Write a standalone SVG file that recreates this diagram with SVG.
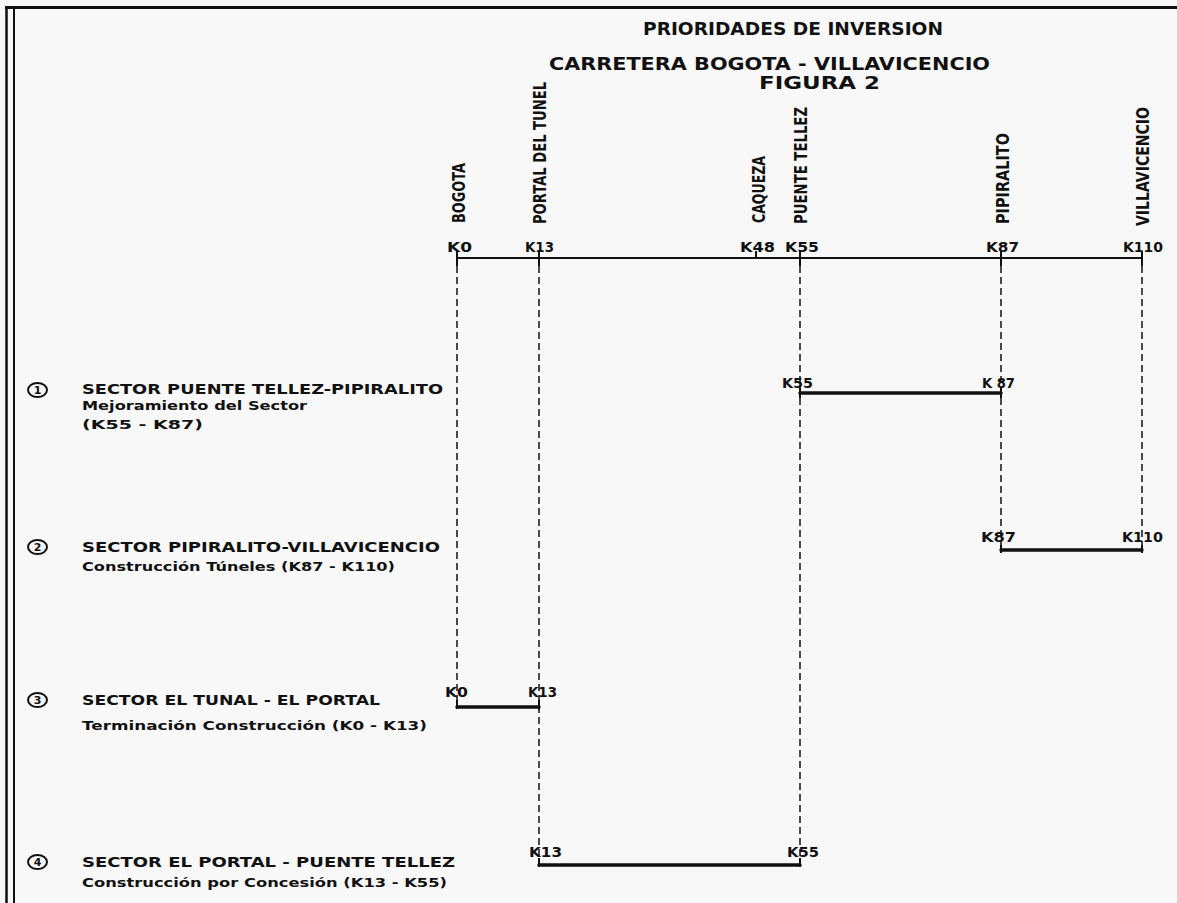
<svg xmlns="http://www.w3.org/2000/svg" width="1177" height="903" viewBox="0 0 1177 903">
<defs>
<style>
.title{font-family:"DejaVu Sans","Liberation Sans",sans-serif;font-size:17.5px;font-weight:bold;fill:#111}
.vlab{font-family:"DejaVu Sans","Liberation Sans",sans-serif;font-size:18px;font-weight:bold;fill:#111}
.km{font-family:"DejaVu Sans","Liberation Sans",sans-serif;font-size:13.5px;font-weight:bold;fill:#111}
.head{font-family:"DejaVu Sans","Liberation Sans",sans-serif;font-size:13.5px;font-weight:bold;fill:#111}
.sub{font-family:"DejaVu Sans","Liberation Sans",sans-serif;font-size:13px;font-weight:bold;fill:#111}
.num{font-family:"DejaVu Sans","Liberation Sans",sans-serif;font-size:11px;font-weight:bold;fill:#111;text-anchor:middle}
.dash{stroke:#111;stroke-width:1.5;stroke-dasharray:7 4;fill:none}
.axis{stroke:#111;stroke-width:2;fill:none}
.bar{stroke:#111;stroke-width:3.5;fill:none;stroke-linecap:round}
.tick{stroke:#111;stroke-width:2;fill:none}
.ell{stroke:#111;stroke-width:2;fill:none}
</style>
</defs>
<rect x="0" y="0" width="1177" height="903" fill="#f8f8f8"/>
<g id="frame">
<line x1="5" y1="7.5" x2="1177" y2="7.5" stroke="#111" stroke-width="3"/>
<line x1="6.5" y1="7" x2="6.5" y2="903" stroke="#111" stroke-width="2.5"/>
<line x1="14" y1="7" x2="14" y2="903" stroke="#111" stroke-width="2"/>
</g>
<g id="title">
<text class="title" x="643" y="35" textLength="300" lengthAdjust="spacingAndGlyphs">PRIORIDADES DE INVERSION</text>
<text class="title" x="549" y="70" textLength="441" lengthAdjust="spacingAndGlyphs">CARRETERA BOGOTA - VILLAVICENCIO</text>
<text class="title" x="759" y="89" textLength="121" lengthAdjust="spacingAndGlyphs">FIGURA 2</text>
</g>
<g id="connectors">
<line class="axis" x1="457" y1="258" x2="1142" y2="258"/>
<line class="tick" x1="457" y1="251" x2="457" y2="266"/>
<line class="tick" x1="539" y1="251" x2="539" y2="266"/>
<line class="tick" x1="756" y1="251" x2="756" y2="258"/>
<line class="tick" x1="800" y1="251" x2="800" y2="266"/>
<line class="tick" x1="1001" y1="251" x2="1001" y2="266"/>
<line class="tick" x1="1142" y1="251" x2="1142" y2="266"/>
<line class="dash" x1="457" y1="266" x2="457" y2="703"/>
<line class="dash" x1="539" y1="266" x2="539" y2="861"/>
<line class="dash" x1="800" y1="266" x2="800" y2="861"/>
<line class="dash" x1="1001" y1="266" x2="1001" y2="546"/>
<line class="dash" x1="1142" y1="266" x2="1142" y2="546"/>
</g>
<g id="axis-labels">
<text class="km" x="447" y="252" textLength="25" lengthAdjust="spacingAndGlyphs">K0</text>
<text class="km" x="525" y="252" textLength="29" lengthAdjust="spacingAndGlyphs">K13</text>
<text class="km" x="740" y="252" textLength="35" lengthAdjust="spacingAndGlyphs">K48</text>
<text class="km" x="785" y="252" textLength="34" lengthAdjust="spacingAndGlyphs">K55</text>
<text class="km" x="986" y="252" textLength="33" lengthAdjust="spacingAndGlyphs">K87</text>
<text class="km" x="1123" y="252" textLength="40" lengthAdjust="spacingAndGlyphs">K110</text>
</g>
<g id="places">
<text class="vlab" transform="translate(465,223) rotate(-90)" textLength="60" lengthAdjust="spacingAndGlyphs">BOGOTA</text>
<text class="vlab" transform="translate(546,224) rotate(-90)" textLength="142" lengthAdjust="spacingAndGlyphs">PORTAL DEL TUNEL</text>
<text class="vlab" transform="translate(765,223) rotate(-90)" textLength="67" lengthAdjust="spacingAndGlyphs">CAQUEZA</text>
<text class="vlab" transform="translate(807,224) rotate(-90)" textLength="117" lengthAdjust="spacingAndGlyphs">PUENTE TELLEZ</text>
<text class="vlab" transform="translate(1009,224) rotate(-90)" textLength="91" lengthAdjust="spacingAndGlyphs">PIPIRALITO</text>
<text class="vlab" transform="translate(1149,226) rotate(-90)" textLength="119" lengthAdjust="spacingAndGlyphs">VILLAVICENCIO</text>
</g>
<g id="sector-1">
<ellipse class="ell" cx="37.5" cy="390" rx="9.5" ry="7"/>
<text class="num" x="37.5" y="394">1</text>
<text class="head" x="82" y="394" textLength="361" lengthAdjust="spacingAndGlyphs">SECTOR PUENTE TELLEZ-PIPIRALITO</text>
<text class="sub" x="82" y="410" textLength="225" lengthAdjust="spacingAndGlyphs">Mejoramiento del Sector</text>
<text class="sub" x="82" y="429" textLength="121" lengthAdjust="spacingAndGlyphs">(K55 - K87)</text>
<line class="bar" x1="800" y1="393" x2="1001" y2="393"/>
<line class="tick" x1="800" y1="388" x2="800" y2="398"/>
<line class="tick" x1="1001" y1="388" x2="1001" y2="398"/>
<text class="km" x="782" y="388" textLength="31" lengthAdjust="spacingAndGlyphs">K55</text>
<text class="km" x="982" y="388" textLength="33" lengthAdjust="spacingAndGlyphs">K 87</text>
</g>
<g id="sector-2">
<ellipse class="ell" cx="37.5" cy="547" rx="9.5" ry="7"/>
<text class="num" x="37.5" y="551">2</text>
<text class="head" x="82" y="552" textLength="358" lengthAdjust="spacingAndGlyphs">SECTOR PIPIRALITO-VILLAVICENCIO</text>
<text class="sub" x="82" y="571" textLength="313" lengthAdjust="spacingAndGlyphs">Construcción Túneles (K87 - K110)</text>
<line class="bar" x1="1001" y1="550" x2="1142" y2="550"/>
<line class="tick" x1="1001" y1="545" x2="1001" y2="553"/>
<line class="tick" x1="1142" y1="545" x2="1142" y2="553"/>
<text class="km" x="981" y="542" textLength="35" lengthAdjust="spacingAndGlyphs">K87</text>
<text class="km" x="1122" y="542" textLength="41" lengthAdjust="spacingAndGlyphs">K110</text>
</g>
<g id="sector-3">
<ellipse class="ell" cx="37.5" cy="700" rx="9.5" ry="7"/>
<text class="num" x="37.5" y="704">3</text>
<text class="head" x="82" y="705" textLength="298" lengthAdjust="spacingAndGlyphs">SECTOR EL TUNAL - EL PORTAL</text>
<text class="sub" x="82" y="730" textLength="345" lengthAdjust="spacingAndGlyphs">Terminación Construcción (K0 - K13)</text>
<line class="bar" x1="457" y1="707" x2="539" y2="707"/>
<line class="tick" x1="457" y1="700" x2="457" y2="709"/>
<line class="tick" x1="539" y1="700" x2="539" y2="710"/>
<text class="km" x="445" y="697" textLength="23" lengthAdjust="spacingAndGlyphs">K0</text>
<text class="km" x="528" y="697" textLength="29" lengthAdjust="spacingAndGlyphs">K13</text>
</g>
<g id="sector-4">
<ellipse class="ell" cx="37.5" cy="862" rx="9.5" ry="7"/>
<text class="num" x="37.5" y="866">4</text>
<text class="head" x="82" y="867" textLength="373" lengthAdjust="spacingAndGlyphs">SECTOR EL PORTAL - PUENTE TELLEZ</text>
<text class="sub" x="82" y="887" textLength="365" lengthAdjust="spacingAndGlyphs">Construcción por Concesión (K13 - K55)</text>
<line class="bar" x1="539" y1="865" x2="800" y2="865"/>
<line class="tick" x1="539" y1="858" x2="539" y2="867"/>
<line class="tick" x1="800" y1="858" x2="800" y2="867"/>
<text class="km" x="529" y="857" textLength="33" lengthAdjust="spacingAndGlyphs">K13</text>
<text class="km" x="787" y="857" textLength="32" lengthAdjust="spacingAndGlyphs">K55</text>
</g>
</svg>
